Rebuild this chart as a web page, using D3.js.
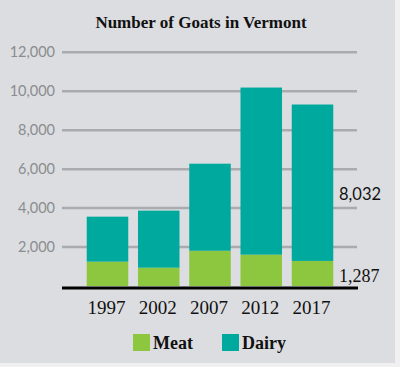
<!DOCTYPE html>
<html>
<head>
<meta charset="utf-8">
<script src="https://cdn.jsdelivr.net/npm/d3@7"></script>
<style>
  body { margin: 0; background: #fff; }
  svg { display: block; }
</style>
</head>
<body>
<div id="chart"></div>
<script>
// data
var years = ["1997", "2002", "2007", "2012", "2017"]
var meat = [1250, 940, 1810, 1610, 1287]
var dairy = [2310, 2930, 4470, 8580, 8032]
var yTicks = [2000, 4000, 6000, 8000, 10000, 12000]
var keys = ["Meat", "Dairy"]

var W = 400, H = 367
var color = { Meat: "#8dc63f", Dairy: "#00a99d" }

var svg = d3.select("#chart").append("svg")
  .attr("width", W)
  .attr("height", H)

// panel background
svg.append("rect")
  .attr("x", 0).attr("y", 0)
  .attr("width", W).attr("height", H)
  .attr("fill", "#f0f0f1")
svg.append("rect")
  .attr("x", 0).attr("y", 0)
  .attr("width", W - 5).attr("height", H - 4)
  .attr("fill", "#dcdde0")

var x = d3.scaleBand()
  .domain(years)
  .range([77, 343])
  .paddingInner(0.19)
  .paddingOuter(0.19)

var y = d3.scaleLinear()
  .domain([0, 12000])
  .range([286, 52.3])

// title
svg.append("text")
  .attr("x", 201)
  .attr("y", 28)
  .attr("text-anchor", "middle")
  .style("font-family", "Liberation Serif, serif")
  .style("font-weight", "bold")
  .style("font-size", "17px")
  .attr("fill", "#111")
  .text("Number of Goats in Vermont")

// gridlines
svg.append("g")
  .selectAll("line")
  .data(yTicks)
  .enter()
  .append("line")
  .attr("x1", 62).attr("x2", 357)
  .attr("y1", d => y(d)).attr("y2", d => y(d))
  .attr("stroke", "#a9abae")
  .attr("stroke-width", 2.5)

// y tick labels
svg.append("g")
  .selectAll("text")
  .data(yTicks)
  .enter()
  .append("text")
  .attr("x", 55)
  .attr("y", d => y(d) + 5)
  .attr("text-anchor", "end")
  .style("font-family", "Lato, sans-serif")
  .style("font-size", "14.5px")
  .attr("fill", "#8a8c8f")
  .text(d => d3.format(",")(d))

// stacked bars
var rows = years.map((yr, i) => ({ year: yr, Meat: meat[i], Dairy: dairy[i] }))
var stack = d3.stack().keys(keys)(rows)

svg.append("g")
  .selectAll("g")
  .data(stack)
  .enter()
  .append("g")
  .attr("fill", d => color[d.key])
  .selectAll("rect")
  .data(d => d)
  .enter()
  .append("rect")
  .attr("x", d => x(d.data.year))
  .attr("y", d => y(d[1]))
  .attr("width", x.bandwidth())
  .attr("height", d => y(d[0]) - y(d[1]))

// baseline
svg.append("line")
  .attr("x1", 62).attr("x2", 358)
  .attr("y1", y(0) + 2).attr("y2", y(0) + 2)
  .attr("stroke", "#000")
  .attr("stroke-width", 3)

// x labels
svg.append("g")
  .selectAll("text")
  .data(years)
  .enter()
  .append("text")
  .attr("x", d => x(d) + x.bandwidth() / 2 - 1)
  .attr("y", 314)
  .attr("text-anchor", "middle")
  .style("font-family", "Liberation Serif, serif")
  .style("font-size", "19px")
  .attr("fill", "#111")
  .text(d => d)

// value labels for 2017
var last = years.length - 1
svg.append("text")
  .attr("x", 339)
  .attr("y", 200)
  .style("font-family", "Lato, sans-serif")
  .style("font-size", "16.5px")
  .attr("fill", "#111")
  .text(d3.format(",")(dairy[last]))

svg.append("text")
  .attr("x", 339)
  .attr("y", 282)
  .style("font-family", "Liberation Serif, serif")
  .style("font-size", "18px")
  .attr("fill", "#111")
  .text(d3.format(",")(meat[last]))

// legend
var legendX = [133, 222]
var legend = svg.append("g")
  .selectAll("g")
  .data(keys)
  .enter()
  .append("g")
  .attr("transform", (d, i) => "translate(" + legendX[i] + ",334)")

legend.append("rect")
  .attr("width", 17).attr("height", 17)
  .attr("fill", d => color[d])

legend.append("text")
  .attr("x", 20)
  .attr("y", 15)
  .style("font-family", "Liberation Serif, serif")
  .style("font-weight", "bold")
  .style("font-size", "18px")
  .attr("fill", "#111")
  .text(d => d)
</script>
</body>
</html>
